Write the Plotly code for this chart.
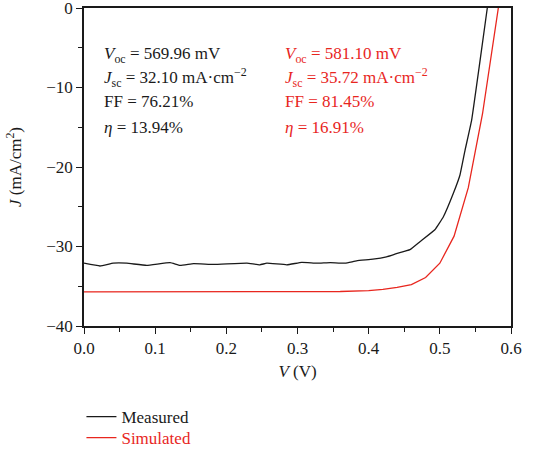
import plotly.graph_objects as go

# Measured J-V curve
meas_v = [0.0, 0.0225, 0.041, 0.06, 0.088, 0.121, 0.135, 0.154, 0.182, 0.229, 0.247,
          0.257, 0.285, 0.306, 0.327, 0.346, 0.367, 0.383, 0.406, 0.425, 0.439, 0.458,
          0.472, 0.493, 0.505, 0.519, 0.5283, 0.5354, 0.5447, 0.5553, 0.5667]
meas_j = [-32.1, -32.45, -32.1, -32.1, -32.37, -32.03, -32.37, -32.16, -32.25, -32.1, -32.3,
          -32.1, -32.3, -32.0, -32.1, -32.03, -32.1, -31.8, -31.6, -31.3, -30.9, -30.4,
          -29.4, -27.9, -26.25, -23.3, -21.0, -17.9, -14.1, -7.4, 0.0]

# Simulated J-V curve
sim_v = [0.0, 0.1, 0.2, 0.3, 0.36, 0.40, 0.42, 0.44, 0.46, 0.48, 0.50, 0.52, 0.54, 0.56, 0.58, 0.5822]
sim_j = [-35.72, -35.71, -35.70, -35.69, -35.66, -35.55, -35.4, -35.15, -34.8, -33.9, -32.1,
         -28.7, -22.6, -13.3, -1.1, 0.0]

x_ticks = [0.0, 0.1, 0.2, 0.3, 0.4, 0.5, 0.6]
x_tick_labels = ["0.0", "0.1", "0.2", "0.3", "0.4", "0.5", "0.6"]
y_ticks = [0, -10, -20, -30, -40]
y_tick_labels = ["0", "\u221210", "\u221220", "\u221230", "\u221240"]

meas_text = ["<i>V</i><sub>oc</sub> = 569.96 mV",
             "<i>J</i><sub>sc</sub> = 32.10 mA\u00b7cm<sup>\u22122</sup>",
             "FF = 76.21%",
             "<i>\u03b7</i> = 13.94%"]
sim_text = ["<i>V</i><sub>oc</sub> = 581.10 mV",
            "<i>J</i><sub>sc</sub> = 35.72 mA\u00b7cm<sup>\u22122</sup>",
            "FF = 81.45%",
            "<i>\u03b7</i> = 16.91%"]
text_y = [-5.85, -8.8, -11.7, -15.0]

BLACK = "#1a1a1a"
RED = "#e8261e"
FONT = "Liberation Serif"

fig = go.Figure()
fig.add_trace(go.Scatter(x=meas_v, y=meas_j, mode="lines", name="Measured", legend="legend",
                         line=dict(color=BLACK, width=1.3, shape="spline", smoothing=0.3)))
fig.add_trace(go.Scatter(x=sim_v, y=sim_j, mode="lines", legend="legend2",
                         name="<span style='color:%s'>Simulated</span>" % RED,
                         line=dict(color=RED, width=1.3)))

for t, y in zip(meas_text, text_y):
    fig.add_annotation(x=0.025, y=y, xref="x", yref="y", text=t, showarrow=False,
                       xanchor="left", yanchor="middle",
                       font=dict(family=FONT, size=17, color=BLACK))
for t, y in zip(sim_text, text_y):
    fig.add_annotation(x=0.28, y=y, xref="x", yref="y", text=t, showarrow=False,
                       xanchor="left", yanchor="middle",
                       font=dict(family=FONT, size=17, color=RED))

legend_common = dict(xanchor="left", yanchor="middle", bgcolor="rgba(0,0,0,0)",
                     font=dict(family=FONT, size=17, color=BLACK), itemwidth=30)
plot_h = 453 - 8 - 127

fig.update_layout(
    width=537, height=453,
    margin=dict(l=84, r=26, t=8, b=127, autoexpand=False),
    paper_bgcolor="white", plot_bgcolor="white",
    font=dict(family=FONT, size=16, color=BLACK),
    showlegend=True,
    legend=dict(x=-0.006, y=(326 - 417) / plot_h, **legend_common),
    legend2=dict(x=-0.006, y=(326 - 438) / plot_h, **legend_common),
)
fig.update_xaxes(range=[0, 0.6], tickvals=x_ticks, ticktext=x_tick_labels,
                 showgrid=False, zeroline=False, showline=True, linecolor=BLACK,
                 linewidth=1.5, mirror=True, ticks="outside", ticklen=6, tickcolor=BLACK,
                 minor=dict(ticks="outside", ticklen=4, tickcolor=BLACK, dtick=0.05),
                 ticklabelstandoff=0, automargin=False, ticklabeloverflow="allow",
                 title=dict(text="<i>V</i> (V)", standoff=8, font=dict(size=17)),
                 tickfont=dict(size=17))
fig.update_yaxes(range=[-40, 0], tickvals=y_ticks, ticktext=y_tick_labels,
                 showgrid=False, zeroline=False, showline=True, linecolor=BLACK,
                 linewidth=1.5, mirror=True, ticks="outside", ticklen=6, tickcolor=BLACK,
                 minor=dict(ticks="outside", ticklen=4, tickcolor=BLACK, dtick=5),
                 ticklabelstandoff=0, automargin=False, ticklabeloverflow="allow",
                 title=dict(text="<i>J</i> (mA/cm<sup>2</sup>)", standoff=20, font=dict(size=17)),
                 tickfont=dict(size=17))

fig.write_html("out.html", config={"displayModeBar": False},
               post_script="document.body.style.margin='0';")
